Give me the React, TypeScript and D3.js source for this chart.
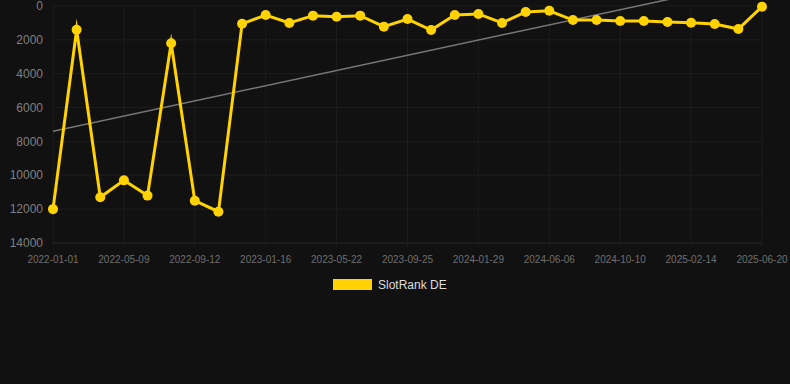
import React from "react";
import * as d3 from "d3";

const dates = [
  "2022-01-01", "2022-02-12", "2022-03-26", "2022-05-09", "2022-06-20", "2022-08-01",
  "2022-09-12", "2022-10-24", "2022-12-05", "2023-01-16", "2023-02-27", "2023-04-10",
  "2023-05-22", "2023-07-03", "2023-08-14", "2023-09-25", "2023-11-06", "2023-12-18",
  "2024-01-29", "2024-03-11", "2024-04-24", "2024-06-06", "2024-07-18", "2024-08-29",
  "2024-10-10", "2024-11-21", "2025-01-02", "2025-02-14", "2025-03-28", "2025-05-09",
  "2025-06-20",
];
const ranks = [
  12000, 1400, 11300, 10300, 11200, 2200, 11500, 12150, 1050, 530, 1000, 570,
  630, 570, 1220, 770, 1420, 530, 470, 1000, 350, 280, 830, 830, 890, 890,
  950, 990, 1060, 1360, 40,
];
const yTicks = [0, 2000, 4000, 6000, 8000, 10000, 12000, 14000];
const seriesName = "SlotRank DE";

const W = 790, H = 384;
const left = 53, right = 762, top = 6, bottom = 243;
const gold = "#FFD200";

export default function App() {
  const x = d3.scalePoint<string>().domain(dates).range([left, right]);
  const y = d3.scaleLinear().domain([0, 14000]).range([top, bottom]);

  const n = ranks.length;
  const idx = d3.range(n);
  const mx = d3.mean(idx) as number;
  const my = d3.mean(ranks) as number;
  const slope =
    d3.sum(idx, (i) => (i - mx) * (ranks[i] - my)) /
    d3.sum(idx, (i) => (i - mx) * (i - mx));
  const icpt = my - slope * mx;
  const tA = icpt, tB = icpt + slope * (n - 1);

  const line = d3
    .line<number>()
    .x((_, i) => x(dates[i]) as number)
    .y((d) => y(d));

  const tickDates = dates.filter((_, i) => i % 3 === 0);

  return (
    <svg width={W} height={H} style={{ position: "absolute", left: 0, top: 0, background: "#111111" }}>
      <rect x={0} y={0} width={W} height={H} fill="#111111" />
      <defs>
        <clipPath id="plotclip">
          <rect x={left} y={0} width={right - left} height={bottom} />
        </clipPath>
      </defs>
      {yTicks.map((t) => (
        <line key={"gy" + t} x1={left} x2={right} y1={y(t)} y2={y(t)}
          stroke={t === 14000 ? "#282828" : "#1d1d1d"} strokeWidth={1} />
      ))}
      {tickDates.map((d) => (
        <line key={"gx" + d} x1={x(d)} x2={x(d)} y1={top} y2={bottom + 4} stroke="#1d1d1d" strokeWidth={1} />
      ))}
      {yTicks.map((t) => (
        <text key={"ty" + t} x={43} y={y(t)} dy="0.35em" textAnchor="end" fill="#808080"
          fontFamily="Liberation Sans, Arial, sans-serif" fontSize={12}>
          {t}
        </text>
      ))}
      {tickDates.map((d) => (
        <text key={"tx" + d} x={x(d)} y={263} textAnchor="middle" fill="#6f6f6f"
          fontFamily="Liberation Sans, Arial, sans-serif" fontSize={10}>
          {d}
        </text>
      ))}
      <line x1={x(dates[0])} y1={y(tA)} x2={x(dates[n - 1])} y2={y(tB)}
        stroke="#777777" strokeWidth={1.5} clipPath="url(#plotclip)" />
      <path d={line(ranks) as string} fill="none" stroke={gold} strokeWidth={3}
        strokeLinejoin="miter" strokeMiterlimit={10} />
      {ranks.map((v, i) => (
        <circle key={"p" + i} cx={x(dates[i])} cy={y(v)} r={5} fill={gold} />
      ))}
      <rect x={333} y={279} width={39} height={11} fill={gold} />
      <text x={378} y={285} dy="0.35em" fill="#dddddd"
        fontFamily="Liberation Sans, Arial, sans-serif" fontSize={12}>
        {seriesName}
      </text>
    </svg>
  );
}
